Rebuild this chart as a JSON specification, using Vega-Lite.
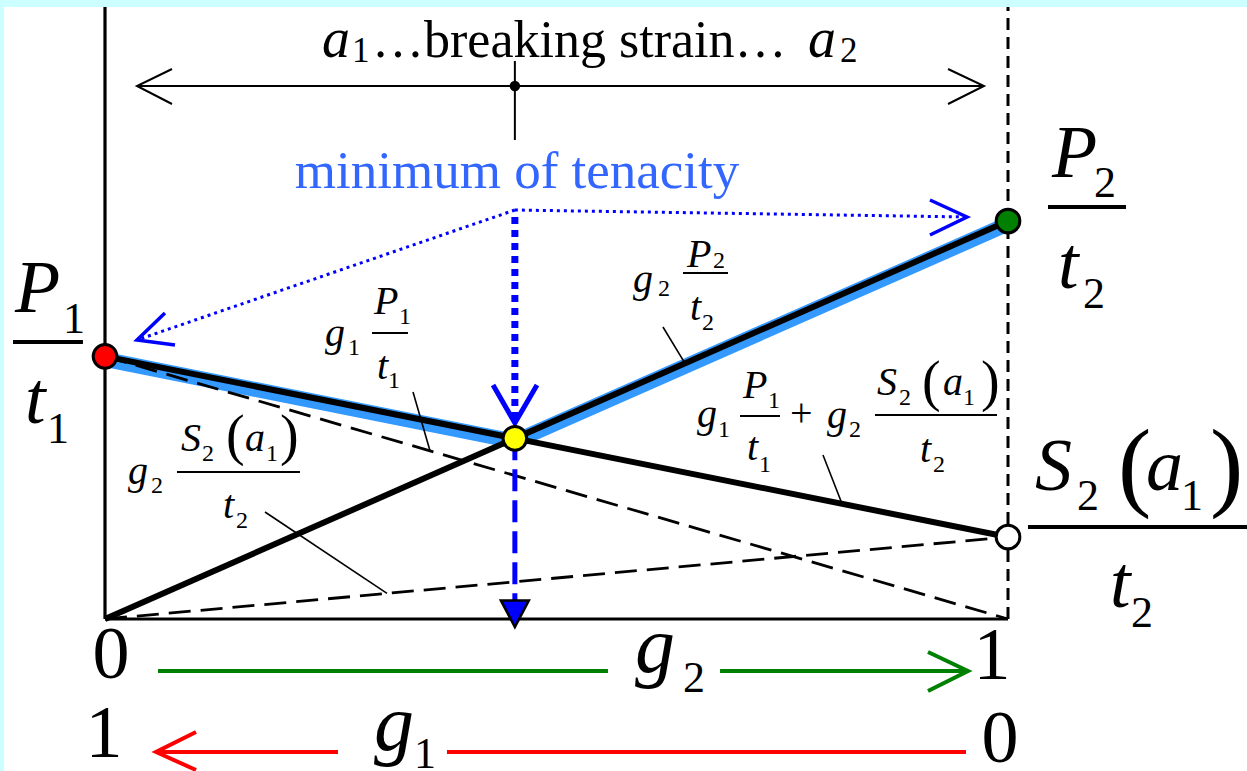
{
  "$schema": "https://vega.github.io/schema/vega-lite/v6.json",
  "width": 1243,
  "height": 764,
  "autosize": {"type": "none"},
  "padding": {"left": 4, "top": 7, "right": 0, "bottom": 0},
  "background": "#CCFFFF",
  "config": {"view": {"fill": "white", "stroke": null}},
  "datasets": {
    "lines": [
      {"id": "env", "kind": "envelope", "o": 1, "x": 0, "y": 0.6525},
      {"id": "env", "kind": "envelope", "o": 2, "x": 0.4539, "y": 0.4464},
      {"id": "env", "kind": "envelope", "o": 3, "x": 1, "y": 0.9925},
      {"id": "mix", "kind": "curve", "o": 1, "x": 0, "y": 0.66},
      {"id": "mix", "kind": "curve", "o": 2, "x": 1, "y": 0.206},
      {"id": "g2p2", "kind": "curve", "o": 1, "x": 0, "y": 0},
      {"id": "g2p2", "kind": "curve", "o": 2, "x": 1, "y": 1},
      {"id": "g1p1", "kind": "part", "o": 1, "x": 0, "y": 0.66},
      {"id": "g1p1", "kind": "part", "o": 2, "x": 1, "y": 0},
      {"id": "g2s2", "kind": "part", "o": 1, "x": 0, "y": 0},
      {"id": "g2s2", "kind": "part", "o": 2, "x": 1, "y": 0.206},
      {"id": "axl", "kind": "axis", "o": 1, "x": 0, "y": 0},
      {"id": "axl", "kind": "axis", "o": 2, "x": 0, "y": 1.5377},
      {"id": "axb", "kind": "axis", "o": 1, "x": 0, "y": 0},
      {"id": "axb", "kind": "axis", "o": 2, "x": 1, "y": 0},
      {"id": "axr", "kind": "edge", "o": 1, "x": 1, "y": 0},
      {"id": "axr", "kind": "edge", "o": 2, "x": 1, "y": 1.5377},
      {"id": "span", "kind": "thin", "o": 1, "x": 0.0354, "y": 1.3392},
      {"id": "span", "kind": "thin", "o": 2, "x": 0.9734, "y": 1.3392},
      {"id": "spanL", "kind": "thin", "o": 1, "x": 0.0742, "y": 1.3819},
      {"id": "spanL", "kind": "thin", "o": 2, "x": 0.0354, "y": 1.3392},
      {"id": "spanL", "kind": "thin", "o": 3, "x": 0.0742, "y": 1.2940},
      {"id": "spanR", "kind": "thin", "o": 1, "x": 0.9336, "y": 1.3819},
      {"id": "spanR", "kind": "thin", "o": 2, "x": 0.9734, "y": 1.3392},
      {"id": "spanR", "kind": "thin", "o": 3, "x": 0.9336, "y": 1.2940},
      {"id": "tick", "kind": "thin", "o": 1, "x": 0.4539, "y": 1.4020},
      {"id": "tick", "kind": "thin", "o": 2, "x": 0.4539, "y": 1.2035},
      {"id": "lead1", "kind": "leader", "o": 1, "x": 0.3411, "y": 0.5704},
      {"id": "lead1", "kind": "leader", "o": 2, "x": 0.3599, "y": 0.4225},
      {"id": "lead2", "kind": "leader", "o": 1, "x": 0.1772, "y": 0.2688},
      {"id": "lead2", "kind": "leader", "o": 2, "x": 0.3123, "y": 0.0643},
      {"id": "lead3", "kind": "leader", "o": 1, "x": 0.6179, "y": 0.7337},
      {"id": "lead3", "kind": "leader", "o": 2, "x": 0.6423, "y": 0.6423},
      {"id": "lead4", "kind": "leader", "o": 1, "x": 0.7951, "y": 0.4121},
      {"id": "lead4", "kind": "leader", "o": 2, "x": 0.8162, "y": 0.2895},
      {"id": "ptrL", "kind": "pointer", "o": 1, "x": 0.4539, "y": 1.0276},
      {"id": "ptrL", "kind": "pointer", "o": 2, "x": 0.0354, "y": 0.7010},
      {"id": "ptrR", "kind": "pointer", "o": 1, "x": 0.4539, "y": 1.0276},
      {"id": "ptrR", "kind": "pointer", "o": 2, "x": 0.9546, "y": 1.0101},
      {"id": "headL", "kind": "pointerhead", "o": 1, "x": 0.0664, "y": 0.7688},
      {"id": "headL", "kind": "pointerhead", "o": 2, "x": 0.0354, "y": 0.7010},
      {"id": "headL", "kind": "pointerhead", "o": 3, "x": 0.0775, "y": 0.6884},
      {"id": "headR", "kind": "pointerhead", "o": 1, "x": 0.9136, "y": 1.0528},
      {"id": "headR", "kind": "pointerhead", "o": 2, "x": 0.9546, "y": 1.0101},
      {"id": "headR", "kind": "pointerhead", "o": 3, "x": 0.9136, "y": 0.9648},
      {"id": "drop", "kind": "drop", "o": 1, "x": 0.4539, "y": 1.0101},
      {"id": "drop", "kind": "drop", "o": 2, "x": 0.4539, "y": 0.50},
      {"id": "vee", "kind": "drophead", "o": 1, "x": 0.4297, "y": 0.5879},
      {"id": "vee", "kind": "drophead", "o": 2, "x": 0.4539, "y": 0.4925},
      {"id": "vee", "kind": "drophead", "o": 3, "x": 0.4784, "y": 0.5879},
      {"id": "down", "kind": "dropline", "o": 1, "x": 0.4539, "y": 0.4539},
      {"id": "down", "kind": "dropline", "o": 2, "x": 0.4539, "y": 0.0402},
      {"id": "g2a", "kind": "g2arrow", "o": 1, "x": 0.0587, "y": -0.1307},
      {"id": "g2a", "kind": "g2arrow", "o": 2, "x": 0.5570, "y": -0.1307},
      {"id": "g2b", "kind": "g2arrow", "o": 1, "x": 0.6811, "y": -0.1307},
      {"id": "g2b", "kind": "g2arrow", "o": 2, "x": 0.9557, "y": -0.1307},
      {"id": "g2h", "kind": "g2arrow", "o": 1, "x": 0.9114, "y": -0.0829},
      {"id": "g2h", "kind": "g2arrow", "o": 2, "x": 0.9557, "y": -0.1307},
      {"id": "g2h", "kind": "g2arrow", "o": 3, "x": 0.9114, "y": -0.1809},
      {"id": "g1h", "kind": "g1arrow", "o": 1, "x": 0.1008, "y": -0.2839},
      {"id": "g1h", "kind": "g1arrow", "o": 2, "x": 0.0565, "y": -0.3342},
      {"id": "g1h", "kind": "g1arrow", "o": 3, "x": 0.1008, "y": -0.3794},
      {"id": "g1a", "kind": "g1arrow", "o": 1, "x": 0.0565, "y": -0.3342},
      {"id": "g1a", "kind": "g1arrow", "o": 2, "x": 0.2580, "y": -0.3342},
      {"id": "g1b", "kind": "g1arrow", "o": 1, "x": 0.3787, "y": -0.3342},
      {"id": "g1b", "kind": "g1arrow", "o": 2, "x": 0.9535, "y": -0.3342}
    ],
    "points": [
      {"kind": "p1", "x": 0, "y": 0.66},
      {"kind": "p2", "x": 1, "y": 1},
      {"kind": "s2", "x": 1, "y": 0.206},
      {"kind": "min", "x": 0.4539, "y": 0.4539},
      {"kind": "mid", "x": 0.4539, "y": 1.3392},
      {"kind": "foot", "x": 0.4539, "y": 0.0151}
    ],
    "bars": [
      {"kind": "big", "x": -0.1019, "x2": -0.0244, "y": 0.6960},
      {"kind": "big", "x": 1.0443, "x2": 1.1307, "y": 1.0352},
      {"kind": "big", "x": 1.0221, "x2": 1.2647, "y": 0.2312},
      {"kind": "small", "x": 0.2957, "x2": 0.3355, "y": 0.7186},
      {"kind": "small", "x": 0.0797, "x2": 0.2159, "y": 0.3693},
      {"kind": "small", "x": 0.6401, "x2": 0.6899, "y": 0.8693},
      {"kind": "small", "x": 0.7032, "x2": 0.7475, "y": 0.5101},
      {"kind": "small", "x": 0.8527, "x2": 0.9878, "y": 0.5126}
    ],
    "labels": [
      {"cls": "tvar", "t": "a", "x": 0.2403, "y": 1.4121},
      {"cls": "tsub", "t": "1", "x": 0.2735, "y": 1.3995},
      {"cls": "title", "t": "…breaking strain…", "x": 0.2957, "y": 1.4121},
      {"cls": "tvar", "t": "a", "x": 0.7785, "y": 1.4121},
      {"cls": "tsub", "t": "2", "x": 0.8140, "y": 1.3995},
      {"cls": "note", "t": "minimum of tenacity", "x": 0.4563, "y": 1.0829},

      {"cls": "bvar", "t": "P", "x": -0.0997, "y": 0.7714},
      {"cls": "bsub", "t": "1", "x": -0.0465, "y": 0.7186},
      {"cls": "bvar", "t": "t", "x": -0.0886, "y": 0.4925},
      {"cls": "bsub", "t": "1", "x": -0.0642, "y": 0.4422},
      {"cls": "bvar", "t": "P", "x": 1.0487, "y": 1.1106},
      {"cls": "bsub", "t": "2", "x": 1.0952, "y": 1.0603},
      {"cls": "bvar", "t": "t", "x": 1.0554, "y": 0.8317},
      {"cls": "bsub", "t": "2", "x": 1.0831, "y": 0.7814},
      {"cls": "bvar", "t": "S", "x": 1.0299, "y": 0.3241},
      {"cls": "bsub", "t": "2", "x": 1.0764, "y": 0.2739},
      {"cls": "bparen", "t": "(", "x": 1.1218, "y": 0.3040},
      {"cls": "bvar", "t": "a", "x": 1.1528, "y": 0.3241},
      {"cls": "bsub", "t": "1", "x": 1.1916, "y": 0.2739},
      {"cls": "bparen", "t": ")", "x": 1.2237, "y": 0.3040},
      {"cls": "bvar", "t": "t", "x": 1.1130, "y": 0.0302},
      {"cls": "bsub", "t": "2", "x": 1.1362, "y": -0.0201},

      {"cls": "bnum", "t": "0", "x": 0.0066, "y": -0.1482},
      {"cls": "bnum", "t": "1", "x": 0.9823, "y": -0.1508},
      {"cls": "bg", "t": "g", "x": 0.5869, "y": -0.1332},
      {"cls": "bsub", "t": "2", "x": 0.6401, "y": -0.1834},
      {"cls": "bnum", "t": "1", "x": -0.0011, "y": -0.3467},
      {"cls": "bnum", "t": "0", "x": 0.9911, "y": -0.3593},
      {"cls": "bg", "t": "g", "x": 0.2979, "y": -0.3291},
      {"cls": "bsub", "t": "1", "x": 0.3422, "y": -0.3744},

      {"cls": "var", "t": "g", "x": 0.2436, "y": 0.6859},
      {"cls": "sub", "t": "1", "x": 0.2691, "y": 0.6633},
      {"cls": "var", "t": "P", "x": 0.2979, "y": 0.7663},
      {"cls": "sub", "t": "1", "x": 0.3256, "y": 0.7412},
      {"cls": "var", "t": "t", "x": 0.3012, "y": 0.6030},
      {"cls": "sub", "t": "1", "x": 0.3134, "y": 0.5804},

      {"cls": "var", "t": "g", "x": 0.0255, "y": 0.3392},
      {"cls": "sub", "t": "2", "x": 0.0509, "y": 0.3166},
      {"cls": "var", "t": "S", "x": 0.0842, "y": 0.4221},
      {"cls": "sub", "t": "2", "x": 0.1074, "y": 0.3970},
      {"cls": "paren", "t": "(", "x": 0.1340, "y": 0.4146},
      {"cls": "var", "t": "a", "x": 0.1550, "y": 0.4221},
      {"cls": "sub", "t": "1", "x": 0.1783, "y": 0.3970},
      {"cls": "paren", "t": ")", "x": 0.1938, "y": 0.4146},
      {"cls": "var", "t": "t", "x": 0.1307, "y": 0.2538},
      {"cls": "sub", "t": "2", "x": 0.1451, "y": 0.2286},

      {"cls": "var", "t": "g", "x": 0.5847, "y": 0.8216},
      {"cls": "sub", "t": "2", "x": 0.6124, "y": 0.8116},
      {"cls": "var", "t": "P", "x": 0.6445, "y": 0.8844},
      {"cls": "sub", "t": "2", "x": 0.6733, "y": 0.8819},
      {"cls": "var", "t": "t", "x": 0.6478, "y": 0.7513},
      {"cls": "sub", "t": "2", "x": 0.6611, "y": 0.7261},

      {"cls": "var", "t": "g", "x": 0.6556, "y": 0.4824},
      {"cls": "sub", "t": "1", "x": 0.6788, "y": 0.4573},
      {"cls": "var", "t": "P", "x": 0.7065, "y": 0.5553},
      {"cls": "sub", "t": "1", "x": 0.7342, "y": 0.5302},
      {"cls": "var", "t": "t", "x": 0.7110, "y": 0.3995},
      {"cls": "sub", "t": "1", "x": 0.7243, "y": 0.3693},
      {"cls": "op", "t": "+", "x": 0.7586, "y": 0.4849},
      {"cls": "var", "t": "g", "x": 0.7996, "y": 0.4799},
      {"cls": "sub", "t": "2", "x": 0.8239, "y": 0.4573},
      {"cls": "var", "t": "S", "x": 0.8549, "y": 0.5628},
      {"cls": "sub", "t": "2", "x": 0.8793, "y": 0.5377},
      {"cls": "paren", "t": "(", "x": 0.9048, "y": 0.5503},
      {"cls": "var", "t": "a", "x": 0.9280, "y": 0.5628},
      {"cls": "sub", "t": "1", "x": 0.9502, "y": 0.5377},
      {"cls": "paren", "t": ")", "x": 0.9701, "y": 0.5503},
      {"cls": "var", "t": "t", "x": 0.9026, "y": 0.3945},
      {"cls": "sub", "t": "2", "x": 0.9169, "y": 0.3693}
    ]
  },
  "encoding": {
    "x": {"field": "x", "type": "quantitative", "axis": null,
          "scale": {"domain": [-0.11185, 1.26467], "nice": false, "zero": false}},
    "y": {"field": "y", "type": "quantitative", "axis": null,
          "scale": {"domain": [-0.38191, 1.53769], "nice": false, "zero": false}}
  },
  "layer": [
    {
      "data": {"name": "lines"},
      "transform": [{"filter": "datum.kind === 'envelope'"}],
      "mark": {"type": "line", "color": "#3399FF", "strokeWidth": 15, "strokeJoin": "round"},
      "encoding": {"detail": {"field": "id"}, "order": {"field": "o"}}
    },
    {
      "data": {"name": "lines"},
      "transform": [{"filter": "datum.kind === 'part'"}],
      "mark": {"type": "line", "color": "black", "strokeWidth": 2.8, "strokeDash": [22, 10]},
      "encoding": {"detail": {"field": "id"}, "order": {"field": "o"}}
    },
    {
      "data": {"name": "lines"},
      "transform": [{"filter": "datum.kind === 'curve'"}],
      "mark": {"type": "line", "color": "black", "strokeWidth": 6},
      "encoding": {"detail": {"field": "id"}, "order": {"field": "o"}}
    },
    {
      "data": {"name": "lines"},
      "transform": [{"filter": "datum.kind === 'axis'"}],
      "mark": {"type": "line", "color": "black", "strokeWidth": 3.2},
      "encoding": {"detail": {"field": "id"}, "order": {"field": "o"}}
    },
    {
      "data": {"name": "lines"},
      "transform": [{"filter": "datum.kind === 'edge'"}],
      "mark": {"type": "line", "color": "black", "strokeWidth": 3, "strokeDash": [12, 7]},
      "encoding": {"detail": {"field": "id"}, "order": {"field": "o"}}
    },
    {
      "data": {"name": "lines"},
      "transform": [{"filter": "datum.kind === 'thin'"}],
      "mark": {"type": "line", "color": "black", "strokeWidth": 2},
      "encoding": {"detail": {"field": "id"}, "order": {"field": "o"}}
    },
    {
      "data": {"name": "lines"},
      "transform": [{"filter": "datum.kind === 'leader'"}],
      "mark": {"type": "line", "color": "black", "strokeWidth": 1.6},
      "encoding": {"detail": {"field": "id"}, "order": {"field": "o"}}
    },
    {
      "data": {"name": "lines"},
      "transform": [{"filter": "datum.kind === 'pointer'"}],
      "mark": {"type": "line", "color": "#0000FF", "strokeWidth": 3, "strokeDash": [3, 4]},
      "encoding": {"detail": {"field": "id"}, "order": {"field": "o"}}
    },
    {
      "data": {"name": "lines"},
      "transform": [{"filter": "datum.kind === 'pointerhead'"}],
      "mark": {"type": "line", "color": "#0000FF", "strokeWidth": 3.5},
      "encoding": {"detail": {"field": "id"}, "order": {"field": "o"}}
    },
    {
      "data": {"name": "lines"},
      "transform": [{"filter": "datum.kind === 'drop'"}],
      "mark": {"type": "line", "color": "#0000FF", "strokeWidth": 7, "strokeDash": [7, 6]},
      "encoding": {"detail": {"field": "id"}, "order": {"field": "o"}}
    },
    {
      "data": {"name": "lines"},
      "transform": [{"filter": "datum.kind === 'drophead'"}],
      "mark": {"type": "line", "color": "#0000FF", "strokeWidth": 5},
      "encoding": {"detail": {"field": "id"}, "order": {"field": "o"}}
    },
    {
      "data": {"name": "lines"},
      "transform": [{"filter": "datum.kind === 'dropline'"}],
      "mark": {"type": "line", "color": "#0000FF", "strokeWidth": 5, "strokeDash": [22, 9]},
      "encoding": {"detail": {"field": "id"}, "order": {"field": "o"}}
    },
    {
      "data": {"name": "lines"},
      "transform": [{"filter": "datum.kind === 'g2arrow'"}],
      "mark": {"type": "line", "color": "#008000", "strokeWidth": 4},
      "encoding": {"detail": {"field": "id"}, "order": {"field": "o"}}
    },
    {
      "data": {"name": "lines"},
      "transform": [{"filter": "datum.kind === 'g1arrow'"}],
      "mark": {"type": "line", "color": "#FF0000", "strokeWidth": 4},
      "encoding": {"detail": {"field": "id"}, "order": {"field": "o"}}
    },
    {
      "data": {"name": "bars"},
      "transform": [{"filter": "datum.kind === 'big'"}],
      "mark": {"type": "rule", "color": "black", "strokeWidth": 4},
      "encoding": {"x2": {"field": "x2"}}
    },
    {
      "data": {"name": "bars"},
      "transform": [{"filter": "datum.kind === 'small'"}],
      "mark": {"type": "rule", "color": "black", "strokeWidth": 2.2},
      "encoding": {"x2": {"field": "x2"}}
    },
    {
      "data": {"name": "points"},
      "transform": [{"filter": "indexof(['p1','p2','s2','min'], datum.kind) >= 0"}],
      "mark": {"type": "point", "shape": "circle", "filled": true, "size": 560, "stroke": "black", "strokeWidth": 3, "opacity": 1},
      "encoding": {
        "fill": {"field": "kind", "type": "nominal", "legend": null,
                 "scale": {"domain": ["p1", "p2", "s2", "min"], "range": ["#FF0000", "#008000", "#FFFFFF", "#FFFF00"]}}
      }
    },
    {
      "data": {"name": "points"},
      "transform": [{"filter": "datum.kind === 'mid'"}],
      "mark": {"type": "point", "shape": "circle", "filled": true, "size": 110, "color": "black", "opacity": 1}
    },
    {
      "data": {"name": "points"},
      "transform": [{"filter": "datum.kind === 'foot'"}],
      "mark": {"type": "point", "shape": "M-1,-0.9L1,-0.9L0,1Z", "filled": true, "size": 784, "fill": "#0000FF", "stroke": "black", "strokeWidth": 2.5, "opacity": 1}
    },
    {
      "data": {"name": "labels"},
      "transform": [{"filter": "datum.cls === 'title'"}],
      "mark": {"type": "text", "font": "Liberation Serif", "fontSize": 52, "align": "left", "baseline": "alphabetic", "color": "black"},
      "encoding": {"text": {"field": "t"}}
    },
    {
      "data": {"name": "labels"},
      "transform": [{"filter": "datum.cls === 'tvar'"}],
      "mark": {"type": "text", "font": "Liberation Serif", "fontStyle": "italic", "fontSize": 56, "align": "left", "baseline": "alphabetic", "color": "black"},
      "encoding": {"text": {"field": "t"}}
    },
    {
      "data": {"name": "labels"},
      "transform": [{"filter": "datum.cls === 'tsub'"}],
      "mark": {"type": "text", "font": "Liberation Serif", "fontSize": 35, "align": "left", "baseline": "alphabetic", "color": "black"},
      "encoding": {"text": {"field": "t"}}
    },
    {
      "data": {"name": "labels"},
      "transform": [{"filter": "datum.cls === 'note'"}],
      "mark": {"type": "text", "font": "Liberation Serif", "fontSize": 53, "align": "center", "baseline": "alphabetic", "color": "#3366FF"},
      "encoding": {"text": {"field": "t"}}
    },
    {
      "data": {"name": "labels"},
      "transform": [{"filter": "datum.cls === 'bvar'"}],
      "mark": {"type": "text", "font": "Liberation Serif", "fontStyle": "italic", "fontSize": 74, "align": "left", "baseline": "alphabetic", "color": "black"},
      "encoding": {"text": {"field": "t"}}
    },
    {
      "data": {"name": "labels"},
      "transform": [{"filter": "datum.cls === 'bg'"}],
      "mark": {"type": "text", "font": "Liberation Serif", "fontStyle": "italic", "fontSize": 80, "align": "left", "baseline": "alphabetic", "color": "black"},
      "encoding": {"text": {"field": "t"}}
    },
    {
      "data": {"name": "labels"},
      "transform": [{"filter": "datum.cls === 'bsub'"}],
      "mark": {"type": "text", "font": "Liberation Serif", "fontSize": 44, "align": "left", "baseline": "alphabetic", "color": "black"},
      "encoding": {"text": {"field": "t"}}
    },
    {
      "data": {"name": "labels"},
      "transform": [{"filter": "datum.cls === 'bnum'"}],
      "mark": {"type": "text", "font": "Liberation Serif", "fontSize": 74, "align": "center", "baseline": "alphabetic", "color": "black"},
      "encoding": {"text": {"field": "t"}}
    },
    {
      "data": {"name": "labels"},
      "transform": [{"filter": "datum.cls === 'bparen'"}],
      "mark": {"type": "text", "font": "Liberation Serif", "fontSize": 100, "align": "left", "baseline": "alphabetic", "color": "black"},
      "encoding": {"text": {"field": "t"}}
    },
    {
      "data": {"name": "labels"},
      "transform": [{"filter": "datum.cls === 'var'"}],
      "mark": {"type": "text", "font": "Liberation Serif", "fontStyle": "italic", "fontSize": 40, "align": "left", "baseline": "alphabetic", "color": "black"},
      "encoding": {"text": {"field": "t"}}
    },
    {
      "data": {"name": "labels"},
      "transform": [{"filter": "datum.cls === 'sub'"}],
      "mark": {"type": "text", "font": "Liberation Serif", "fontSize": 24, "align": "left", "baseline": "alphabetic", "color": "black"},
      "encoding": {"text": {"field": "t"}}
    },
    {
      "data": {"name": "labels"},
      "transform": [{"filter": "datum.cls === 'paren'"}],
      "mark": {"type": "text", "font": "Liberation Serif", "fontSize": 56, "align": "left", "baseline": "alphabetic", "color": "black"},
      "encoding": {"text": {"field": "t"}}
    },
    {
      "data": {"name": "labels"},
      "transform": [{"filter": "datum.cls === 'op'"}],
      "mark": {"type": "text", "font": "Liberation Serif", "fontSize": 40, "align": "left", "baseline": "alphabetic", "color": "black"},
      "encoding": {"text": {"field": "t"}}
    }
  ]
}
